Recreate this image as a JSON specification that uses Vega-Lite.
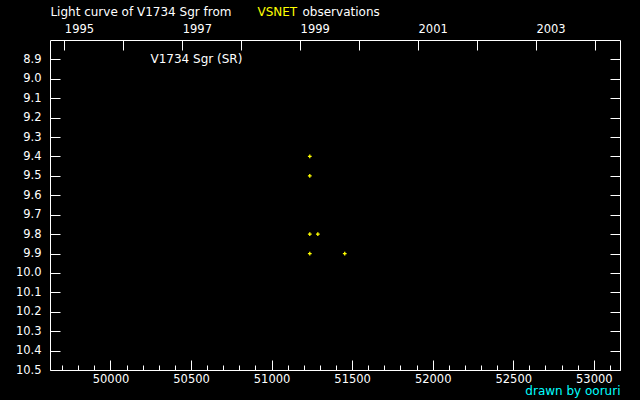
{
  "$schema": "https://vega.github.io/schema/vega-lite/v6.json",
  "background": "black",
  "autosize": "none",
  "padding": {"left": 50, "top": 40, "right": 20, "bottom": 30},
  "width": 570,
  "height": 330,
  "datasets": {
    "obs": [
      {"jd": 51237, "mag": 9.4},
      {"jd": 51237, "mag": 9.5},
      {"jd": 51237, "mag": 9.8},
      {"jd": 51287, "mag": 9.8},
      {"jd": 51237, "mag": 9.9},
      {"jd": 51454, "mag": 9.9}
    ],
    "years": [
      {"year": 1995, "mag": 9.0}
    ]
  },
  "layer": [
    {
      "layer": [
        {
          "data": {"name": "obs"},
          "mark": {
            "type": "point",
            "shape": "M-1,0H1M0,-1V1",
            "size": 14,
            "filled": false,
            "stroke": "#ffff00",
            "strokeWidth": 1.3,
            "opacity": 1
          },
          "encoding": {
            "x": {
              "field": "jd",
              "type": "quantitative",
              "scale": {"domain": [49624.5, 53162.6], "nice": false, "zero": false},
              "axis": {
                "orient": "bottom",
                "values": [49700, 49800, 49900, 50000, 50100, 50200, 50300, 50400, 50500, 50600, 50700, 50800, 50900, 51000, 51100, 51200, 51300, 51400, 51500, 51600, 51700, 51800, 51900, 52000, 52100, 52200, 52300, 52400, 52500, 52600, 52700, 52800, 52900, 53000, 53100],
                "tickCount": 200,
                "format": "d",
                "labelExpr": "datum.value % 500 === 0 ? datum.label : ''",
                "labelOverlap": false,
                "offset": -10,
                "tickSize": 10,
                "tickDash": {"condition": {"test": "datum.value % 500 === 0", "value": [10, 0]}, "value": [0, 5, 5, 0]},
                "labelPadding": 3,
                "title": "drawn by ooruri",
                "titleColor": "#00ffff",
                "titleAnchor": "end",
                "titleFont": "DejaVu Sans",
                "titleFontSize": 12,
                "titleFontWeight": "normal",
                "titlePadding": 1
              }
            },
            "y": {
              "field": "mag",
              "type": "quantitative",
              "scale": {"domain": [8.8, 10.5], "reverse": true, "nice": false, "zero": false},
              "axis": {
                "orient": "left",
                "values": [8.9, 9.0, 9.1, 9.2, 9.3, 9.4, 9.5, 9.6, 9.7, 9.8, 9.9, 10.0, 10.1, 10.2, 10.3, 10.4, 10.5],
                "tickCount": 200,
                "format": ".1f",
                "labelOverlap": false,
                "offset": -10,
                "tickSize": 10,
                "labelPadding": 9,
                "title": null
              }
            }
          }
        },
        {
          "data": {"values": [{}]},
          "mark": {"type": "text", "align": "left", "baseline": "middle", "color": "white", "font": "DejaVu Sans", "fontSize": 12},
          "encoding": {
            "x": {"datum": 50248, "type": "quantitative"},
            "y": {"datum": 8.9, "type": "quantitative"},
            "text": {"value": "V1734 Sgr (SR)"}
          }
        },
        {
          "data": {"values": [{}]},
          "mark": {"type": "text", "align": "left", "baseline": "alphabetic", "color": "white", "font": "DejaVu Sans", "fontSize": 12},
          "encoding": {
            "x": {"datum": 49627, "type": "quantitative"},
            "y": {"datum": 8.678, "type": "quantitative"},
            "text": {"value": "Light curve of V1734 Sgr from"}
          }
        },
        {
          "data": {"values": [{}]},
          "mark": {"type": "text", "align": "left", "baseline": "alphabetic", "color": "#ffff00", "font": "DejaVu Sans", "fontSize": 12},
          "encoding": {
            "x": {"datum": 50912, "type": "quantitative"},
            "y": {"datum": 8.678, "type": "quantitative"},
            "text": {"value": "VSNET"}
          }
        },
        {
          "data": {"values": [{}]},
          "mark": {"type": "text", "align": "left", "baseline": "alphabetic", "color": "white", "font": "DejaVu Sans", "fontSize": 12},
          "encoding": {
            "x": {"datum": 51192, "type": "quantitative"},
            "y": {"datum": 8.678, "type": "quantitative"},
            "text": {"value": "observations"}
          }
        }
      ]
    },
    {
      "data": {"name": "years"},
      "mark": {"type": "point", "opacity": 0},
      "encoding": {
        "x": {
          "field": "year",
          "type": "quantitative",
          "scale": {"domain": [1994.757, 2004.427], "nice": false, "zero": false},
          "axis": {
            "orient": "top",
            "values": [1995, 1995.5, 1996, 1996.5, 1997, 1997.5, 1998, 1998.5, 1999, 1999.5, 2000, 2000.5, 2001, 2001.5, 2002, 2002.5, 2003, 2003.5, 2004],
            "tickCount": 200,
            "format": "d",
            "labelExpr": "datum.value % 2 === 1 ? datum.label : ''",
            "labelAlign": "left",
            "labelOverlap": false,
            "offset": -10,
            "tickSize": 10,
            "tickDash": {"condition": {"test": "datum.value % 1 === 0", "value": [10, 0]}, "value": [0, 7, 3, 0]},
            "labelPadding": 6,
            "title": null
          }
        },
        "y": {
          "field": "mag",
          "type": "quantitative",
          "scale": {"domain": [8.8, 10.5], "reverse": true, "nice": false, "zero": false},
          "axis": {
            "orient": "right",
            "values": [8.9, 9.0, 9.1, 9.2, 9.3, 9.4, 9.5, 9.6, 9.7, 9.8, 9.9, 10.0, 10.1, 10.2, 10.3, 10.4, 10.5],
            "tickCount": 200,
            "labels": false,
            "offset": -10,
            "tickSize": 10,
            "title": null
          }
        }
      }
    }
  ],
  "resolve": {"scale": {"x": "independent", "y": "independent"}},
  "config": {
    "view": {"stroke": "white", "strokeWidth": 1},
    "axis": {
      "domain": false,
      "grid": false,
      "labelColor": "white",
      "tickColor": "white",
      "tickWidth": 1,
      "labelFont": "DejaVu Sans",
      "labelFontSize": 11.5,
      "labelFlush": false,
      "labelOverlap": false
    }
  }
}
